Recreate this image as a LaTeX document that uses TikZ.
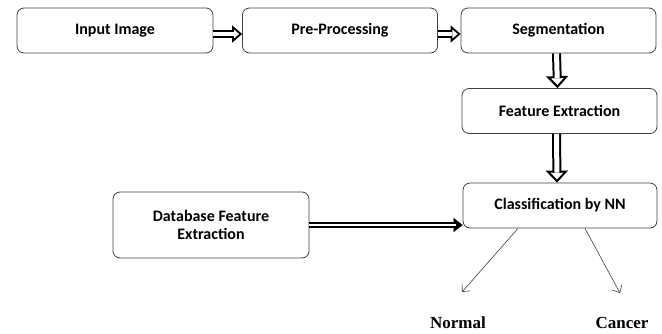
\documentclass[tikz,border=0pt]{standalone}
\usepackage{fontspec}
\setmainfont{Carlito}
\newfontfamily\timesfont{Liberation Serif}
\usetikzlibrary{arrows.meta}
\begin{document}
\begin{tikzpicture}[x=1pt, y=-1pt, font=\fontsize{16}{18.5}\selectfont\bfseries, stage/.style={draw=black!75, line width=0.8pt, rounded corners=7pt, minimum height=45pt, align=center}, hhead/.style={draw=white, line width=0.1pt, -{Triangle[open, color=black, fill=white, length=10pt, width=17pt, line width=1.8pt]}}, hshaft/.style={draw=black, double=white, double distance=3.6pt, line width=1.8pt, shorten >=8.5pt}, vhead/.style={draw=white, line width=0.1pt, -{Triangle[open, color=black, fill=white, length=12pt, width=22pt, line width=2pt]}}, vshaft/.style={draw=black, double=white, double distance=5pt, line width=2pt, shorten >=10pt}, fhead/.style={draw=white, line width=0.1pt, -{Triangle[color=black, fill=black, length=9pt, width=14pt]}}, fshaft/.style={draw=black, double=white, double distance=1.8pt, line width=1.8pt, shorten >=7pt}, result/.style={draw=black!75, line width=0.6pt, -{Straight Barb[length=6pt, width=11pt]}}, line join=miter]
        \useasboundingbox (0, 0) rectangle (662, 333);
        \node[stage, minimum width=196pt] (input) at (115, 30.5) {Input Image};
        \node[stage, minimum width=195pt] (pre) at (340, 30.5) {Pre-Processing};
        \node[stage, minimum width=195pt] (seg) at (558.5, 30.5) {Segmentation};
        \node[stage, minimum width=195pt] (feat) at (559.5, 111) {Feature Extraction};
        \node[stage, minimum width=194pt] (class) at (560, 205.5) {Classification by NN};
        \node[stage, minimum width=196pt, minimum height=66pt] (db) at (211, 225) {Database Feature\\Extraction};
        \node[font=\timesfont\fontsize{17}{20}\selectfont\bfseries] (normal) at (458, 323) {Normal};
        \node[font=\timesfont\fontsize{17}{20}\selectfont\bfseries] (cancer) at (622, 323) {Cancer};
        \coordinate (toNormal) at (462, 292);
        \coordinate (toCancer) at (620, 293);
        % hollow block arrows: head first, shaft on top
        \draw[hhead] ([yshift=-3.5pt]input.east) -- ([yshift=-3.5pt]pre.west);
        \draw[hshaft] ([yshift=-3.5pt]input.east) -- ([yshift=-3.5pt]pre.west);
        \draw[hhead] ([yshift=-3.5pt]pre.east) -- ([yshift=-3.5pt]seg.west);
        \draw[hshaft] ([yshift=-3.5pt]pre.east) -- ([yshift=-3.5pt]seg.west);
        \draw[vhead] ([xshift=-2pt]seg.south) -- ([xshift=-2pt]feat.north);
        \draw[vshaft] ([xshift=-2pt]seg.south) -- ([xshift=-2pt]feat.north);
        \draw[vhead] ([xshift=-3pt]feat.south) -- ([xshift=-3pt]class.north);
        \draw[vshaft] ([xshift=-3pt]feat.south) -- ([xshift=-3pt]class.north);
        \draw[fhead] (db.east) -- (db.east -| class.west);
        \draw[fshaft] (db.east) -- (db.east -| class.west);
        \draw[result] ([xshift=-42pt]class.south) -- (toNormal);
        \draw[result] ([xshift=25pt]class.south) -- (toCancer);
    \end{tikzpicture}
\end{document}
